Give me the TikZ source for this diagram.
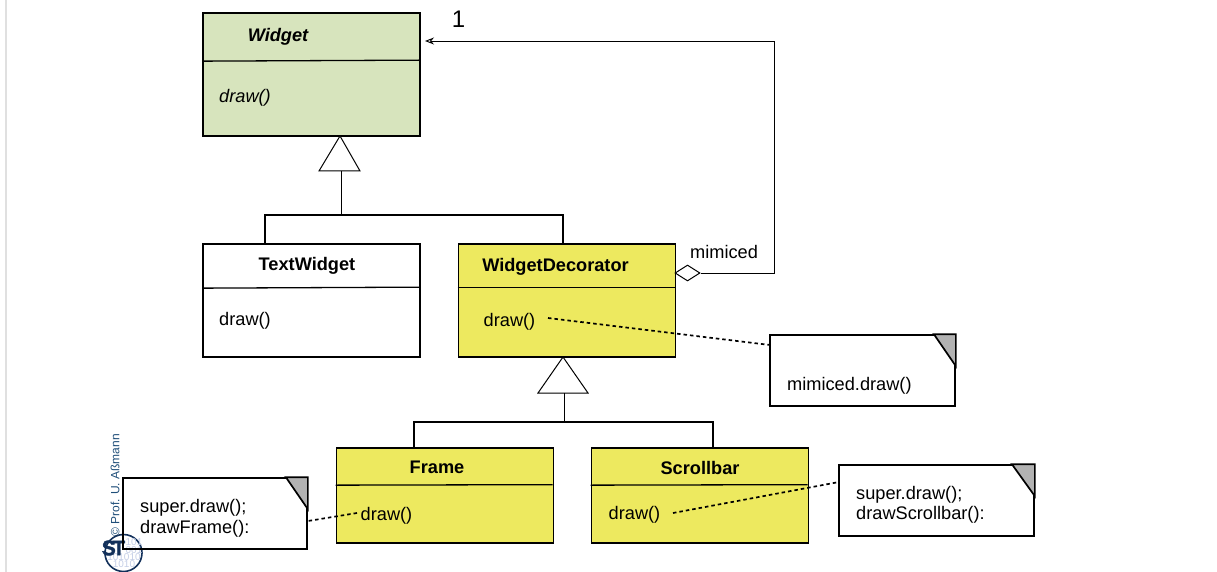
\documentclass[tikz,border=0pt]{standalone}
\usepackage{fontspec}
\setmainfont{Liberation Sans}
\newfontfamily\logofont[FakeBold=2]{Liberation Sans Bold}
\usetikzlibrary{arrows.meta, shapes.geometric}
\definecolor{widgetgreen}{HTML}{D7E4BD}
\definecolor{decoyellow}{HTML}{EDE95F}
\definecolor{foldgray}{HTML}{B2B2B2}
\definecolor{logoblue}{HTML}{1F4E79}
\definecolor{logodark}{HTML}{12305A}
\definecolor{bitblue}{HTML}{C4CEE6}
\tikzset{
  classbox/.style={rectangle,draw,line width=1.7pt,inner sep=0pt,minimum width=217pt},
  label/.style={inner sep=0pt,font=\fontsize{18.2}{21}\selectfont},
  notebox/.style={rectangle,draw,line width=1.7pt,inner sep=0pt,minimum height=71pt},
  fold/.style={draw,line width=1.7pt,fill=foldgray},
  open tri/.style={draw,line width=1pt,fill=white},
  link/.style={line width=1.3pt},
  thin link/.style={line width=.9pt},
  dots/.style={line width=1.7pt,dash pattern=on 3.5pt off 3pt},
}
\begin{document}
\begin{tikzpicture}[x=1pt,y=-1pt]
\useasboundingbox (0,0) rectangle (1217,572);
\draw [line width=1.5pt,black!12] (6,0) -- (6,572);

% logo
\node [rotate=90,anchor=west,inner sep=0pt,text=logoblue,font=\fontsize{12}{13}\selectfont] (copy) at (115,537) {© Prof. U. Aßmann};
\node [circle,draw=logodark,line width=1.6pt,minimum size=37pt,inner sep=0pt] (logo) at (123.5,553) {};
\node [inner sep=0pt,text=bitblue,font=\fontsize{10}{8}\selectfont,align=right] (bits1) at (134,546) {101\\001};
\node [inner sep=0pt,text=bitblue,font=\fontsize{10}{7.5}\selectfont,align=center] (bits2) at (124,560.5) {101010\\1010};
\node [inner sep=0pt,text=logodark,font=\logofont\fontsize{21}{21}\selectfont] (st) at (113.5,548) {S\kern-3.5pt T};

\begin{scope}[every node/.style={classbox}]
    \node [fill=widgetgreen,minimum height=123pt] (W) at (311.5,74.5) {};
    \node [minimum height=113pt] (T) at (311.5,300.5) {};
    \node [fill=decoyellow,minimum height=113pt] (D) at (567,300.5) {};
    \node [fill=decoyellow,minimum height=95pt] (F) at (445,495.5) {};
    \node [fill=decoyellow,minimum height=95pt] (S) at (700,495.5) {};
\end{scope}
% compartments
\draw [link] (W.north west)+(0,49) -- +(217,48);
\draw [link] (T.north west)+(0,45) -- +(217,44);
\draw [link] (D.north west)+(0,44.5) -- +(217,44.5);
\draw [link] (F.north west)+(0,38) -- +(217,37.5);
\draw [link] (S.north west)+(0,38) -- +(217,37.5);

\begin{scope}[every node/.style={label}]
    \node (Wname) at (278,37) {\bfseries\itshape Widget};
    \node (Wdraw) at (245,98) {\itshape draw()};
    \node (Tname) at (307,266) {\bfseries TextWidget};
    \node (Tdraw) at (245,321) {draw()};
    \node (Dname) at (555.5,267) {\bfseries WidgetDecorator};
    \node (Ddraw) at (509.5,322) {draw()};
    \node (Fname) at (437,467) {\bfseries Frame};
    \node (Fdraw) at (386.5,516) {draw()};
    \node (Sname) at (700,468) {\bfseries Scrollbar};
    \node (Sdraw) at (634.5,515) {draw()};
    \node [anchor=west] (mim) at (690,252) {mimiced};
    \node [font=\fontsize{24}{28}\selectfont] (one) at (458.5,19) {1};
\end{scope}

% inheritance
\coordinate (W1) at (340,136);
\coordinate (W2) at (319,171);
\coordinate (W3) at (360,171);
\coordinate (D1) at (563,357);
\coordinate (D2) at (538,393);
\coordinate (D3) at (588,393);
\draw [open tri] (W1) -- (W2) -- (W3) -- cycle;
\draw [open tri] (D1) -- (D2) -- (D3) -- cycle;
\draw [thin link] (341,171) -- (341,215);
\draw [link] (265,243) |- (563,215) -- (563,243);
\draw [thin link] (564,393) -- (564,422);
\draw [link] (414,447) |- (713,422) -- (713,447);

% aggregation
\node [diamond,draw,line width=1pt,fill=white,inner sep=0pt,minimum width=25pt,minimum height=16pt] (dia) at (687.5,273) {};
\coordinate (bend) at (774,273);
\coordinate (top) at (774,41);
\coordinate (tip) at (425,41);
\draw [thin link] (dia.east) -- (bend) -- (top);
\draw [thin link,-{Stealth[open,length=9pt,width=7pt]}] (top) -- (tip);

% notes
\node [notebox,minimum width=185pt] (N1) at (862.5,370.5) {};
\node [notebox,minimum width=184pt] (N2) at (215,513.5) {};
\node [notebox,minimum width=195pt] (N3) at (936.5,500.5) {};
\draw [fold] (N1.north east)+(-22,0) -- (N1.north east) -- +(0,32) -- cycle;
\draw [fold] (N2.north east)+(-22,0) -- (N2.north east) -- +(0,32) -- cycle;
\draw [fold] (N3.north east)+(-23,0) -- (N3.north east) -- +(0,32) -- cycle;
\begin{scope}[every node/.style={label,align=left,anchor=west,font=\fontsize{18.2}{20.5}\selectfont}]
    \node (N1text) at (787,386) {mimiced.draw()};
    \node (N2text) at (140,518.5) {super.draw();\\drawFrame():};
    \node (N3text) at (856,505) {super.draw();\\drawScrollbar():};
\end{scope}

% note links
\coordinate (D start) at (548,318);
\coordinate (N1in) at (770,345);
\coordinate (F start) at (357,513);
\coordinate (N2in) at (308,521);
\coordinate (S start) at (673,513);
\coordinate (N3in) at (839,482);
\draw [dots] (D start) -- (N1in);
\draw [dots] (F start) -- (N2in);
\draw [dots] (S start) -- (N3in);
\end{tikzpicture}
\end{document}
